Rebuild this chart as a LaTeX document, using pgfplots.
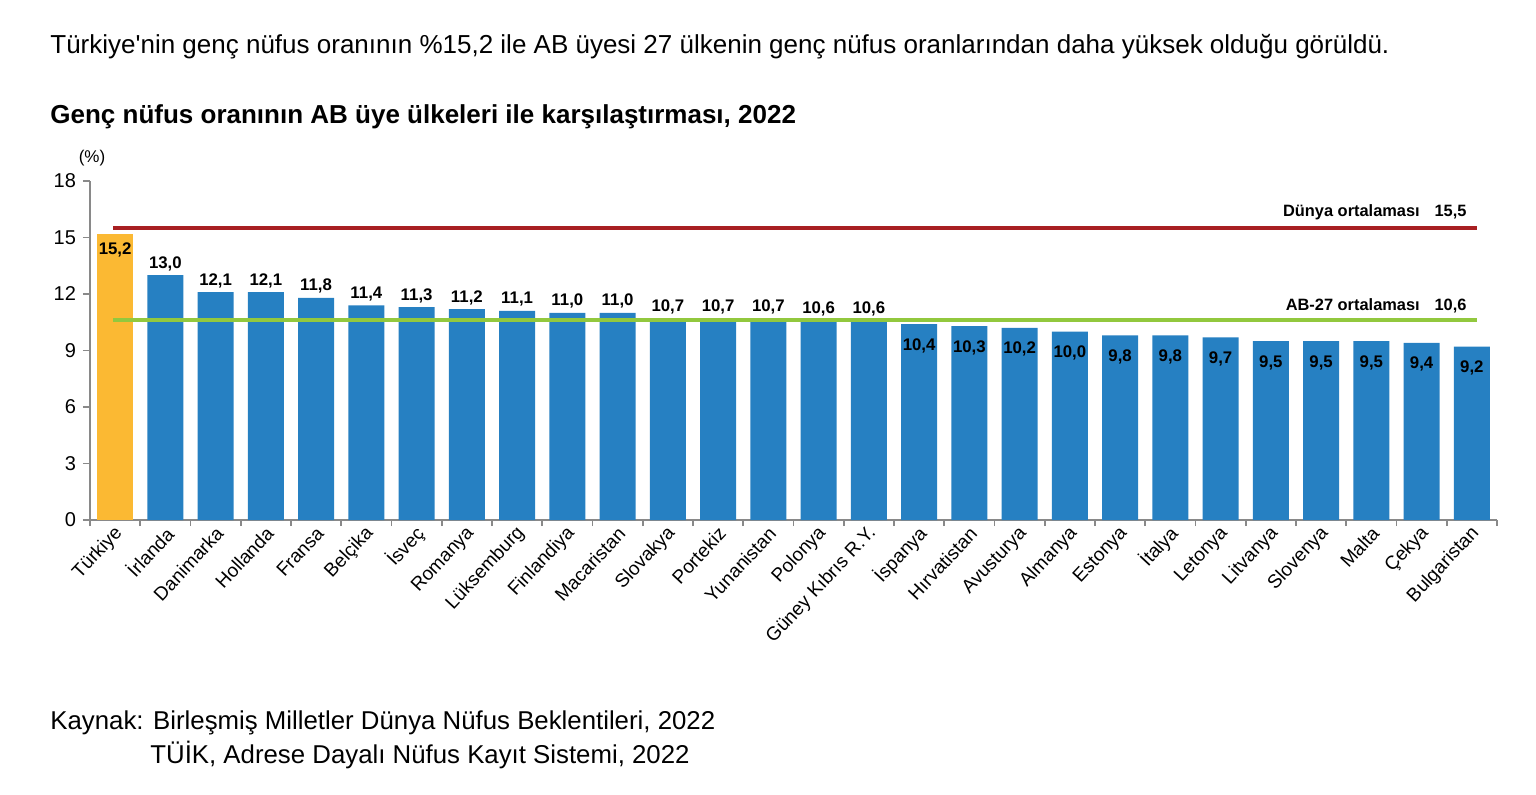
\documentclass[border=0pt]{standalone}
\usepackage{pgfplots}
\pgfplotsset{compat=1.18}
\usepackage{fontspec}
\setmainfont{Liberation Sans}

\definecolor{barblue}{RGB}{38,128,194}
\definecolor{barorange}{RGB}{251,185,51}
\definecolor{linered}{RGB}{168,32,34}
\definecolor{linegreen}{RGB}{146,200,62}
\definecolor{axisgray}{RGB}{137,137,137}

\pgfplotsset{
  vallabel/.style={
    nodes near coords={\pgfmathprintnumber[assume math mode=true, use comma, fixed, fixed zerofill, precision=1]{\pgfplotspointmeta}},
    every node near coord/.append style={
      font=\bfseries\fontsize{8.4}{9}\selectfont, inner sep=0pt, anchor=base, yshift=#1},
  },
}

\begin{document}
\begin{tikzpicture}
\path[use as bounding box] (0,0) rectangle (768pt,-397pt);

\node[anchor=base west, inner sep=0pt, font=\fontsize{13}{15}\selectfont] at (25pt,-26.7pt)
  {Türkiye\textquotesingle nin genç nüfus oranının \%15,2 ile AB üyesi 27 ülkenin genç nüfus oranlarından daha yüksek olduğu görüldü.};
\node[anchor=base west, inner sep=0pt, font=\bfseries\fontsize{13}{15}\selectfont] at (25pt,-61.6pt)
  {Genç nüfus oranının AB üye ülkeleri ile karşılaştırması, 2022};
\node[inner sep=0pt, font=\fontsize{8.5}{10}\selectfont] at (46pt,-79pt) {(\%)};
\node[anchor=base west, inner sep=0pt, font=\fontsize{12.9}{15}\selectfont] at (25pt,-364.7pt)
  {Kaynak: Birleşmiş Milletler Dünya Nüfus Beklentileri, 2022};
\node[anchor=base west, inner sep=0pt, font=\fontsize{12.9}{15}\selectfont] at (75pt,-381.7pt)
  {TÜİK, Adrese Dayalı Nüfus Kayıt Sistemi, 2022};

\begin{axis}[
  at={(45pt,-260pt)}, anchor=south west,
  scale only axis, width=703.5pt, height=169.5pt,
  xmin=-0.5, xmax=27.5, ymin=0, ymax=18,
  clip=false,
  axis x line*=bottom, axis y line*=left,
  axis line style={axisgray, line width=0.8pt},
  tick style={axisgray, line width=0.8pt},
  tick align=outside,
  major tick length=3.5pt, minor tick length=3pt,
  ytick={0,3,...,18},
  xtick={0,...,27},
  major x tick style={draw=none},
  minor xtick={-0.5,0.5,...,27.5},
  xticklabels={Türkiye, İrlanda, Danimarka, Hollanda, Fransa, Belçika, İsveç, Romanya,
    Lüksemburg, Finlandiya, Macaristan, Slovakya, Portekiz, Yunanistan, Polonya,
    Güney Kıbrıs R.Y., İspanya, Hırvatistan, Avusturya, Almanya, Estonya, İtalya,
    Letonya, Litvanya, Slovenya, Malta, Çekya, Bulgaristan},
  xticklabel style={xshift=3.5pt, rotate=47, anchor=east, font=\fontsize{9.5}{11}\selectfont, inner sep=2pt},
  yticklabel style={font=\fontsize{10}{12}\selectfont},
  /pgf/number format/assume math mode=true,
]

\addplot[ybar, bar width=18pt, bar shift=0pt, fill=barorange, draw=none, vallabel=-10.5pt]
  coordinates {(0,15.2)};

\addplot[ybar, bar width=18pt, bar shift=0pt, fill=barblue, draw=none, vallabel=3.5pt]
  coordinates {
    (1,13.0) (2,12.1) (3,12.1) (4,11.8) (5,11.4) (6,11.3) (7,11.2) (8,11.1)
    (9,11.0) (10,11.0) (11,10.7) (12,10.7) (13,10.7) (14,10.6) (15,10.6)
  };

\addplot[ybar, bar width=18pt, bar shift=0pt, fill=barblue, draw=none, vallabel=-13pt]
  coordinates {
    (16,10.4) (17,10.3) (18,10.2) (19,10.0) (20,9.8) (21,9.8) (22,9.7)
    (23,9.5) (24,9.5) (25,9.5) (26,9.4) (27,9.2)
  };

% world and EU-27 averages
\addplot[sharp plot, mark=none, linered, line width=2pt] coordinates {(-0.036,15.5) (27.095,15.5)};
\addplot[sharp plot, mark=none, linegreen, line width=2pt] coordinates {(-0.036,10.6) (27.095,10.6)};

\node[anchor=base east, inner sep=0pt, font=\bfseries\fontsize{8.2}{9}\selectfont]
  at (axis cs:26.9,15.5) [yshift=5.8pt] {Dünya ortalaması\hspace{0.9em}15,5};
\node[anchor=base east, inner sep=0pt, font=\bfseries\fontsize{8.2}{9}\selectfont]
  at (axis cs:26.9,10.6) [yshift=5pt] {AB-27 ortalaması\hspace{0.9em}10,6};
\end{axis}
\end{tikzpicture}
\end{document}
